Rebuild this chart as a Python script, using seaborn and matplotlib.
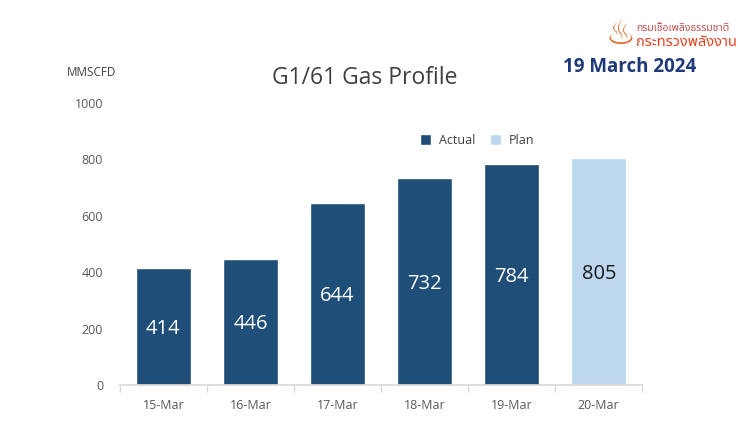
import seaborn as sns
import pandas as pd
import matplotlib.pyplot as plt
import matplotlib.ticker as tkr

dates = ["15-Mar", "16-Mar", "17-Mar", "18-Mar", "19-Mar", "20-Mar"]
values = [414, 446, 644, 732, 784, 805]
kinds = ["Actual", "Actual", "Actual", "Actual", "Actual", "Plan"]

df = pd.DataFrame({"date": dates, "gas": values, "kind": kinds})

sns.set_theme(style="white")
plt.rcParams['font.family'] = ['Open Sans', 'DejaVu Sans']

fig = plt.figure(figsize=(7.4, 4.36), dpi=100)
ax = fig.add_axes([0.162, 0.117, 0.706, 0.647])

palette = {"Actual": "#1F4E79", "Plan": "#BDD7EE"}
sns.barplot(data=df, x="date", y="gas", hue="kind", palette=palette,
            dodge=False, width=0.63, saturation=1, ax=ax)

ax.set_ylim(0, 1000)
ax.set_xlim(-0.5, len(dates) - 0.5)
ax.yaxis.set_major_locator(tkr.MultipleLocator(200))
ax.set_xlabel("")
ax.set_ylabel("")
for s in ["top", "right", "left"]:
    ax.spines[s].set_visible(False)
ax.spines["bottom"].set_color("#d9d9d9")
ax.tick_params(axis="y", length=0, pad=12, labelsize=9, labelcolor="#595959")
ax.tick_params(axis="x", which="major", length=0, pad=10, labelsize=9, labelcolor="#595959")
ax.xaxis.set_minor_locator(tkr.FixedLocator([i - 0.5 for i in range(len(dates) + 1)]))
ax.tick_params(axis="x", which="minor", length=5, color="#d9d9d9", bottom=True)

for i, (v, k) in enumerate(zip(values, kinds)):
    ax.text(i, v / 2 - 8, str(v), ha="center", va="center", fontsize=14.5,
            color="white" if k == "Actual" else "#1a1a1a")

leg = ax.legend(loc="upper left", bbox_to_anchor=(0.553, 0.93), ncol=2, frameon=False,
                fontsize=9, handlelength=0.9, handleheight=0.9, columnspacing=1.2,
                handletextpad=0.6)
for t in leg.get_texts():
    t.set_color("#404040")

fig.text(365 / 740, 1 - 78 / 436, "G1/61 Gas Profile", ha="center", va="center",
         fontsize=16.5, color="#404040")
fig.text(67 / 740, 1 - 72 / 436, "MMSCFD", ha="left", va="center", fontsize=8.5, color="#404040")
fig.text(630 / 740, 1 - 67 / 436, "19 March 2024", ha="center", va="center",
         fontsize=13.5, fontweight="bold", color="#1F3A7A")

thai = ['Noto Sans Thai', 'Noto Sans', 'DejaVu Sans']
fig.text(636 / 740, 1 - 28 / 436, "กรมเชื้อเพลิงธรรมชาติ", ha="left", va="center",
         fontsize=7.5, color="#C0504D", family=thai)
fig.text(636 / 740, 1 - 43 / 436, "กระทรวงพลังงาน", ha="left", va="center",
         fontsize=10.5, color="#E8401C", family=thai)
fig.text(620 / 740, 1 - 35 / 436, "\u2668", ha="center", va="center",
         fontsize=24, color="#E8601C", family=['DejaVu Sans'])

fig.savefig("out.png", dpi=100)
